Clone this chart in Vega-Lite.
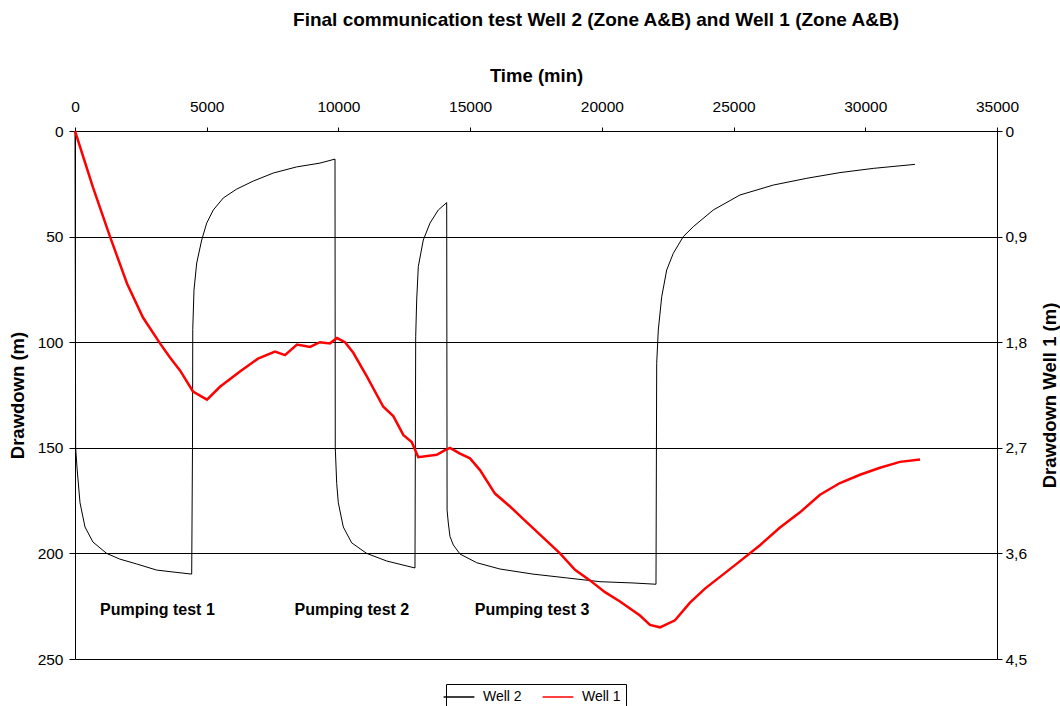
{
  "$schema": "https://vega.github.io/schema/vega-lite/v6.json",
  "width": 922,
  "height": 528,
  "autosize": {"type": "none"},
  "padding": {"left": 75, "top": 131, "right": 63, "bottom": 47},
  "background": "white",
  "config": {
    "font": "Liberation Sans",
    "view": {"stroke": null},
    "axis": {
      "labelFont": "Liberation Sans",
      "titleFont": "Liberation Sans",
      "labelFontSize": 15.5,
      "titleFontSize": 18.5,
      "titleFontWeight": "bold",
      "labelColor": "black",
      "titleColor": "black",
      "domainColor": "black",
      "tickColor": "black",
      "gridColor": "black",
      "gridOpacity": 1,
      "labelFlush": false
    },
    "legend": {
      "orient": "none",
      "legendX": 371,
      "legendY": 553,
      "direction": "horizontal",
      "strokeColor": "black",
      "padding": 5,
      "labelFontSize": 14,
      "labelFont": "Liberation Sans",
      "labelColor": "black",
      "labelOffset": 16,
      "symbolType": "M-2.2,0H2.2",
      "symbolSize": 196,
      "symbolStrokeWidth": 1.5,
      "columnPadding": 17,
      "title": null
    }
  },
  "title": {
    "text": "Final communication test Well 2 (Zone A&B) and Well 1 (Zone A&B)",
    "font": "Liberation Sans",
    "fontSize": 19,
    "fontWeight": "bold",
    "color": "black",
    "anchor": "middle",
    "dx": 60,
    "offset": 36
  },
  "datasets": {
    "well2": [
      {"t": 0, "d": 0, "series": "Well 2"},
      {"t": 25, "d": 150, "series": "Well 2"},
      {"t": 80, "d": 160, "series": "Well 2"},
      {"t": 190, "d": 176, "series": "Well 2"},
      {"t": 380, "d": 187.5, "series": "Well 2"},
      {"t": 680, "d": 194.6, "series": "Well 2"},
      {"t": 1200, "d": 200, "series": "Well 2"},
      {"t": 1700, "d": 202.7, "series": "Well 2"},
      {"t": 2340, "d": 205, "series": "Well 2"},
      {"t": 3100, "d": 207.9, "series": "Well 2"},
      {"t": 3720, "d": 208.8, "series": "Well 2"},
      {"t": 4430, "d": 209.8, "series": "Well 2"},
      {"t": 4460, "d": 150, "series": "Well 2"},
      {"t": 4470, "d": 94, "series": "Well 2"},
      {"t": 4517, "d": 75.3, "series": "Well 2"},
      {"t": 4620, "d": 62.5, "series": "Well 2"},
      {"t": 4810, "d": 51.6, "series": "Well 2"},
      {"t": 4999, "d": 43.6, "series": "Well 2"},
      {"t": 5250, "d": 37.4, "series": "Well 2"},
      {"t": 5630, "d": 31.7, "series": "Well 2"},
      {"t": 6138, "d": 27.5, "series": "Well 2"},
      {"t": 6768, "d": 23.7, "series": "Well 2"},
      {"t": 7528, "d": 19.9, "series": "Well 2"},
      {"t": 8415, "d": 17.0, "series": "Well 2"},
      {"t": 9300, "d": 15.2, "series": "Well 2"},
      {"t": 9870, "d": 13.3, "series": "Well 2"},
      {"t": 9880, "d": 150, "series": "Well 2"},
      {"t": 9934, "d": 166.8, "series": "Well 2"},
      {"t": 9995, "d": 176, "series": "Well 2"},
      {"t": 10185, "d": 187.5, "series": "Well 2"},
      {"t": 10503, "d": 195, "series": "Well 2"},
      {"t": 11073, "d": 200, "series": "Well 2"},
      {"t": 11832, "d": 203.6, "series": "Well 2"},
      {"t": 12906, "d": 206.9, "series": "Well 2"},
      {"t": 12933, "d": 97.4, "series": "Well 2"},
      {"t": 12971, "d": 80, "series": "Well 2"},
      {"t": 13032, "d": 64.2, "series": "Well 2"},
      {"t": 13222, "d": 51.6, "series": "Well 2"},
      {"t": 13476, "d": 43.6, "series": "Well 2"},
      {"t": 13791, "d": 37.4, "series": "Well 2"},
      {"t": 14110, "d": 33.9, "series": "Well 2"},
      {"t": 14125, "d": 179.5, "series": "Well 2"},
      {"t": 14171, "d": 185.6, "series": "Well 2"},
      {"t": 14235, "d": 192, "series": "Well 2"},
      {"t": 14360, "d": 196, "series": "Well 2"},
      {"t": 14615, "d": 200.3, "series": "Well 2"},
      {"t": 15248, "d": 204.4, "series": "Well 2"},
      {"t": 16132, "d": 207.4, "series": "Well 2"},
      {"t": 17386, "d": 209.8, "series": "Well 2"},
      {"t": 18665, "d": 211.6, "series": "Well 2"},
      {"t": 19929, "d": 213.4, "series": "Well 2"},
      {"t": 21181, "d": 214, "series": "Well 2"},
      {"t": 22055, "d": 214.6, "series": "Well 2"},
      {"t": 22082, "d": 110, "series": "Well 2"},
      {"t": 22143, "d": 94.2, "series": "Well 2"},
      {"t": 22272, "d": 78.5, "series": "Well 2"},
      {"t": 22462, "d": 65.8, "series": "Well 2"},
      {"t": 22712, "d": 57.9, "series": "Well 2"},
      {"t": 23092, "d": 50, "series": "Well 2"},
      {"t": 23471, "d": 45.3, "series": "Well 2"},
      {"t": 24230, "d": 37.4, "series": "Well 2"},
      {"t": 25243, "d": 30.3, "series": "Well 2"},
      {"t": 26507, "d": 25.6, "series": "Well 2"},
      {"t": 27775, "d": 22.4, "series": "Well 2"},
      {"t": 29039, "d": 19.7, "series": "Well 2"},
      {"t": 30303, "d": 17.7, "series": "Well 2"},
      {"t": 31886, "d": 15.8, "series": "Well 2"}
    ],
    "well1": [
      {"t": 0, "m": 0, "series": "Well 1"},
      {"t": 683, "m": 0.48, "series": "Well 1"},
      {"t": 1329, "m": 0.90, "series": "Well 1"},
      {"t": 1974, "m": 1.30, "series": "Well 1"},
      {"t": 2581, "m": 1.59, "series": "Well 1"},
      {"t": 3227, "m": 1.81, "series": "Well 1"},
      {"t": 3606, "m": 1.93, "series": "Well 1"},
      {"t": 3986, "m": 2.04, "series": "Well 1"},
      {"t": 4479, "m": 2.22, "series": "Well 1"},
      {"t": 5011, "m": 2.29, "series": "Well 1"},
      {"t": 5504, "m": 2.18, "series": "Well 1"},
      {"t": 6263, "m": 2.05, "series": "Well 1"},
      {"t": 6947, "m": 1.94, "series": "Well 1"},
      {"t": 7592, "m": 1.88, "series": "Well 1"},
      {"t": 7972, "m": 1.91, "series": "Well 1"},
      {"t": 8427, "m": 1.82, "series": "Well 1"},
      {"t": 8921, "m": 1.84, "series": "Well 1"},
      {"t": 9300, "m": 1.80, "series": "Well 1"},
      {"t": 9680, "m": 1.81, "series": "Well 1"},
      {"t": 9946, "m": 1.765, "series": "Well 1"},
      {"t": 10250, "m": 1.80, "series": "Well 1"},
      {"t": 10564, "m": 1.89, "series": "Well 1"},
      {"t": 11073, "m": 2.09, "series": "Well 1"},
      {"t": 11703, "m": 2.35, "series": "Well 1"},
      {"t": 12083, "m": 2.43, "series": "Well 1"},
      {"t": 12462, "m": 2.59, "series": "Well 1"},
      {"t": 12781, "m": 2.65, "series": "Well 1"},
      {"t": 13032, "m": 2.78, "series": "Well 1"},
      {"t": 13730, "m": 2.76, "series": "Well 1"},
      {"t": 14045, "m": 2.72, "series": "Well 1"},
      {"t": 14235, "m": 2.70, "series": "Well 1"},
      {"t": 14615, "m": 2.75, "series": "Well 1"},
      {"t": 14994, "m": 2.79, "series": "Well 1"},
      {"t": 15374, "m": 2.89, "series": "Well 1"},
      {"t": 15943, "m": 3.09, "series": "Well 1"},
      {"t": 16513, "m": 3.20, "series": "Well 1"},
      {"t": 17082, "m": 3.32, "series": "Well 1"},
      {"t": 17651, "m": 3.44, "series": "Well 1"},
      {"t": 18411, "m": 3.60, "series": "Well 1"},
      {"t": 18980, "m": 3.74, "series": "Well 1"},
      {"t": 19549, "m": 3.83, "series": "Well 1"},
      {"t": 20119, "m": 3.93, "series": "Well 1"},
      {"t": 20688, "m": 4.01, "series": "Well 1"},
      {"t": 21447, "m": 4.13, "series": "Well 1"},
      {"t": 21827, "m": 4.21, "series": "Well 1"},
      {"t": 22207, "m": 4.23, "series": "Well 1"},
      {"t": 22776, "m": 4.17, "series": "Well 1"},
      {"t": 23345, "m": 4.02, "series": "Well 1"},
      {"t": 23915, "m": 3.90, "series": "Well 1"},
      {"t": 24484, "m": 3.80, "series": "Well 1"},
      {"t": 25054, "m": 3.70, "series": "Well 1"},
      {"t": 26003, "m": 3.53, "series": "Well 1"},
      {"t": 26762, "m": 3.38, "series": "Well 1"},
      {"t": 27521, "m": 3.25, "series": "Well 1"},
      {"t": 28281, "m": 3.10, "series": "Well 1"},
      {"t": 29040, "m": 3.00, "series": "Well 1"},
      {"t": 29799, "m": 2.93, "series": "Well 1"},
      {"t": 30558, "m": 2.87, "series": "Well 1"},
      {"t": 31317, "m": 2.82, "series": "Well 1"},
      {"t": 32077, "m": 2.80, "series": "Well 1"}
    ],
    "labels": [
      {"t": 3130, "d": 227, "label": "Pumping test 1"},
      {"t": 10510, "d": 227, "label": "Pumping test 2"},
      {"t": 17350, "d": 227, "label": "Pumping test 3"}
    ]
  },
  "encoding": {
    "x": {
      "field": "t", "type": "quantitative",
      "scale": {"domain": [0, 35000], "nice": false, "zero": false},
      "axis": {
        "orient": "top", "title": "Time (min)", "grid": false,
        "values": [0, 5000, 10000, 15000, 20000, 25000, 30000, 35000],
        "format": "d", "tickSize": 4, "labelPadding": 13, "titlePadding": 14
      }
    }
  },
  "layer": [
    {
      "data": {"name": "well2"},
      "mark": {"type": "line", "strokeWidth": 1},
      "encoding": {
        "y": {
          "field": "d", "type": "quantitative",
          "scale": {"domain": [0, 250], "reverse": true, "nice": false},
          "axis": {
            "orient": "left", "title": "Drawdown (m)", "grid": true,
            "values": [0, 50, 100, 150, 200, 250],
            "tickSize": 6, "labelPadding": 6, "titlePadding": 10
          }
        },
        "color": {
          "field": "series", "type": "nominal",
          "scale": {"domain": ["Well 2", "Well 1"], "range": ["black", "red"]}
        }
      }
    },
    {
      "data": {"name": "labels"},
      "mark": {"type": "text", "fontSize": 16, "fontWeight": "bold", "font": "Liberation Sans", "color": "black", "align": "center", "baseline": "middle"},
      "encoding": {
        "y": {"field": "d", "type": "quantitative", "scale": {"domain": [0, 250], "reverse": true, "nice": false}, "axis": null},
        "text": {"field": "label", "type": "nominal"}
      }
    },
    {
      "data": {"name": "well1"},
      "mark": {"type": "line", "strokeWidth": 2.5},
      "encoding": {
        "y": {
          "field": "m", "type": "quantitative",
          "scale": {"domain": [0, 4.5], "reverse": true, "nice": false},
          "axis": {
            "orient": "right", "title": "Drawdown Well 1 (m)", "grid": false,
            "values": [0, 0.9, 1.8, 2.7, 3.6, 4.5],
            "labelExpr": "datum.value == 0 ? '0' : replace(format(datum.value, '.1f'), '.', ',')",
            "tickSize": 5, "labelPadding": 3, "titlePadding": 14, "titleAngle": 270, "titleBaseline": "top"
          }
        },
        "color": {
          "field": "series", "type": "nominal",
          "scale": {"domain": ["Well 2", "Well 1"], "range": ["black", "red"]}
        }
      }
    }
  ],
  "resolve": {"scale": {"y": "independent"}}
}
